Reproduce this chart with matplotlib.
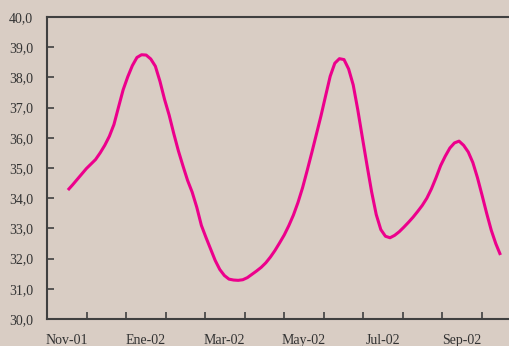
import matplotlib
matplotlib.use("Agg")
import matplotlib.pyplot as plt
import numpy as np

# Half-weekly series, mid-Nov-01 to mid-Oct-02
values = [34.27, 34.44, 34.62, 34.80, 34.98, 35.13, 35.28, 35.50, 35.75, 36.05,
          36.44, 37.02, 37.59, 38.02, 38.39, 38.66, 38.75, 38.74, 38.61, 38.37,
          37.87, 37.27, 36.75, 36.14, 35.57, 35.07, 34.59, 34.20, 33.70, 33.10,
          32.70, 32.32, 31.94, 31.64, 31.44, 31.32, 31.29, 31.28, 31.30, 31.37,
          31.48, 31.59, 31.71, 31.86, 32.05, 32.27, 32.52, 32.78, 33.09, 33.44,
          33.86, 34.35, 34.92, 35.51, 36.12, 36.73, 37.39, 38.04, 38.47, 38.62,
          38.59, 38.28, 37.75, 36.92, 36.00, 35.09, 34.21, 33.46, 32.96, 32.74,
          32.69, 32.77, 32.89, 33.04, 33.20, 33.37, 33.56, 33.76, 34.00, 34.31,
          34.68, 35.08, 35.39, 35.66, 35.83, 35.89, 35.75, 35.53, 35.18, 34.68,
          34.10, 33.50, 32.94, 32.49, 32.12]
months = ["Nov-01", "Dic-01", "Ene-02", "Feb-02", "Mar-02", "Abr-02",
          "May-02", "Jun-02", "Jul-02", "Ago-02", "Sep-02", "Oct-02"]
shown_labels = ["Nov-01", "Ene-02", "Mar-02", "May-02", "Jul-02", "Sep-02"]
yticks = [30, 31, 32, 33, 34, 35, 36, 37, 38, 39, 40]

# x in month units: first obs mid-Nov-01, last obs mid-Oct-02
x = np.linspace(0.53, 11.48, len(values))

bg = "#D9CDC4"
fig = plt.figure(figsize=(5.09, 3.46), dpi=100, facecolor=bg)
ax = fig.add_axes([47/509, 27/346, 474/509, 302/346])
ax.set_facecolor(bg)

ax.plot(x, values, color="#EC008C", lw=2.2, solid_joinstyle="round",
        solid_capstyle="butt")

ax.set_xlim(0, len(months))
ax.set_ylim(30, 40)

serif = ["Liberation Serif", "DejaVu Serif"]
ax.set_yticks(yticks)
ax.set_yticklabels([f"{v:.1f}".replace(".", ",") for v in yticks],
                   family=serif, fontsize=10, color="#333333")
ax.set_xticks(np.arange(0, len(months) + 1))
ax.set_xticklabels([])
ax.set_xticks([months.index(m) + 0.5 for m in shown_labels], minor=True)
ax.set_xticklabels(shown_labels, minor=True, family=serif, fontsize=10, color="#333333")

ax.tick_params(axis="y", direction="in", length=5, width=1.2, color="#404040", pad=10)
ax.tick_params(axis="x", which="major", direction="in", length=5, width=1.2, color="#404040")
ax.tick_params(axis="x", which="minor", length=0, pad=11)

for s in ["left", "bottom", "top"]:
    ax.spines[s].set_color("#404040")
    ax.spines[s].set_linewidth(1.5)
ax.spines["right"].set_visible(False)

fig.savefig("out.png", dpi=100, facecolor=bg)
